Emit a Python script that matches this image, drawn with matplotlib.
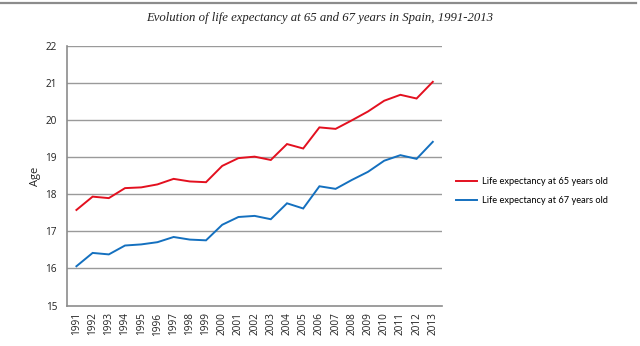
import matplotlib
matplotlib.use("Agg")
import matplotlib.pyplot as plt
from matplotlib.lines import Line2D

years = [str(y) for y in range(1991, 2014)]
life_65 = [17.58, 17.94, 17.90, 18.17, 18.19, 18.27, 18.42, 18.35, 18.33,
           18.77, 18.98, 19.02, 18.93, 19.36, 19.24, 19.81, 19.77, 20.00,
           20.24, 20.53, 20.69, 20.59, 21.04]
life_67 = [16.06, 16.42, 16.38, 16.62, 16.65, 16.71, 16.85, 16.78, 16.76,
           17.18, 17.39, 17.42, 17.33, 17.76, 17.62, 18.22, 18.15, 18.39,
           18.61, 18.91, 19.06, 18.96, 19.42]
series_labels = ["Life expectancy at 65 years old", "Life expectancy at 67 years old"]
y_ticks = [15, 16, 17, 18, 19, 20, 21, 22]
title = "Evolution of life expectancy at 65 and 67 years in Spain, 1991-2013"

RED = "#e3101f"
BLUE = "#1470bf"
GRID = "#9a9a9a"
SANS = ["Open Sans", "DejaVu Sans"]
LEGEND_FONT = ["Lato", "DejaVu Sans"]

fig = plt.figure(figsize=(6.4, 3.46), dpi=100)
W, H = 640, 346
ax = fig.add_axes([66.7 / W, 1 - 305.5 / H, (441.7 - 66.7) / W, (305.5 - 46.3) / H])

x = range(len(years))
ax.plot(x, life_65, color=RED, lw=1.4, solid_joinstyle="miter")
ax.plot(x, life_67, color=BLUE, lw=1.4, solid_joinstyle="miter")

ax.set_xlim(-0.6, len(years) - 0.45)
ax.set_ylim(15, 22)
ax.set_yticks(y_ticks)
ax.set_yticklabels([str(v) for v in y_ticks], fontsize=7.2, family=SANS, color="#222222")
ax.set_xticks(list(x))
ax.set_xticklabels(years, rotation=90, fontsize=7.2, family=SANS, color="#222222")
ax.tick_params(length=0, pad=7)
ax.tick_params(axis="x", pad=5)

for v in y_ticks[1:]:
    ax.axhline(v, color=GRID, lw=1.0, zorder=0)
for side in ["top", "right"]:
    ax.spines[side].set_visible(False)
for side in ["left", "bottom"]:
    ax.spines[side].set_color("#8c8c8c")
    ax.spines[side].set_linewidth(1.2)

ax.set_ylabel("Age", fontsize=8, family=SANS, color="#222222", labelpad=3)

handles = [Line2D([], [], color=RED, lw=1.4), Line2D([], [], color=BLUE, lw=1.4)]
fig.legend(handles, series_labels, loc="upper left", bbox_to_anchor=(456 / W, 1 - 177 / H),
           frameon=False, prop={"family": LEGEND_FONT, "size": 6.7}, handlelength=2.3,
           handletextpad=0.45, labelspacing=1.05, borderaxespad=0, borderpad=0)

fig.text(0.5, 1 - 18 / H, title, ha="center", va="center", fontsize=9.2,
         family="Liberation Serif", style="italic", color="#222222")
fig.add_artist(Line2D([0, 636 / W], [1 - 3 / H, 1 - 3 / H], color="#8c8c8c", lw=1.6))

fig.savefig("out.png", dpi=100)
